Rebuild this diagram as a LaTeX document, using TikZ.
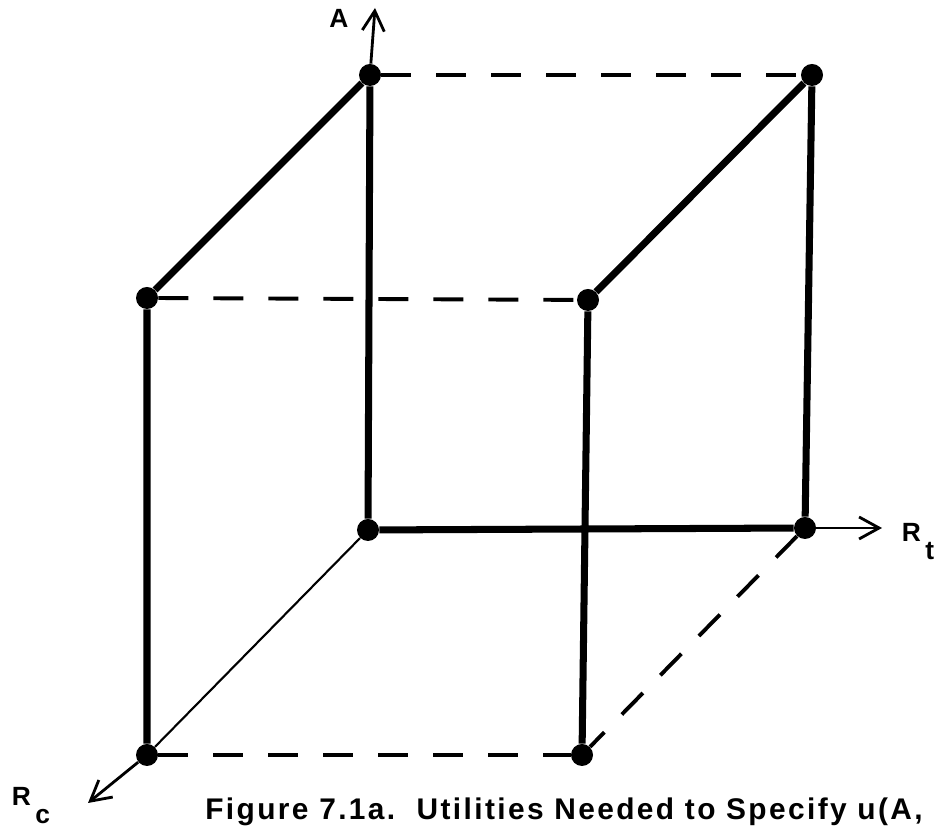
\documentclass[tikz,border=0pt]{standalone}
\usepackage{fontspec}
\setsansfont{Liberation Sans}
\usetikzlibrary{arrows.meta,positioning}

\begin{document}
\begin{tikzpicture}[font=\sffamily\bfseries, >={Straight Barb[length=4mm,width=4.4mm]},
  punto/.style={circle, fill, inner sep=0pt, minimum size=0.44cm},
  spigolo/.style={line width=4pt},
  tratteggio/.style={line width=2.2pt, dash pattern=on 0.6cm off 0.5cm},
  asse/.style={->, line width=1.6pt},
  etichetta/.style={font=\sffamily\bfseries\fontsize{15}{18}\selectfont}]
\useasboundingbox (0,0) rectangle (18.7,16.64);
% vertici del cubo
\node[punto] (o)   at (7.36,6.04)  {};
\node[punto] (tbl) at (7.40,15.14) {};
\node[punto] (tbr) at (16.24,15.14) {};
\node[punto] (bbr) at (16.10,6.08) {};
\node[punto] (ftl) at (2.94,10.68) {};
\node[punto] (ftr) at (11.76,10.64) {};
\node[punto] (fbl) at (2.94,1.54)  {};
\node[punto] (fbr) at (11.64,1.54) {};
\coordinate (atip)  at (7.50,16.48);
\coordinate (rttip) at (17.64,6.08);
\coordinate (rctip) at (1.76,0.58);
% assi
\draw[asse] (tbl) -- (atip);
\draw[asse] (bbr) -- (rttip);
\draw[line width=1.2pt] (o) -- (fbl);
\draw[asse] (fbl) -- (rctip);
\node[etichetta] (alab)  at (6.78,16.28) {A};
\node[etichetta] (rtlab) at (18.36,5.80) {R\,\raisebox{-1.3ex}{t}};
\node[etichetta] (rclab) at (0.62,0.52)  {R\,\raisebox{-1.3ex}{c}};
% spigoli tratteggiati
\draw[tratteggio] (tbl) -- (tbr);
\draw[tratteggio] (ftl) -- (ftr);
\draw[tratteggio] (fbl) -- (fbr);
\draw[tratteggio] (bbr) -- (fbr);
% spigoli pieni
\draw[spigolo] (tbl) -- (o) -- (bbr) -- (tbr) -- (ftr) -- (fbr);
\draw[spigolo] (tbl) -- (ftl) -- (fbl);
\node[anchor=west, inner sep=0pt, font=\sffamily\bfseries\fontsize{17}{20}\selectfont\addfontfeature{LetterSpace=8}] (cap) at (4.10,0.40)
  {Figure 7.1a.\ \ Utilities Needed to Specify u(A,};
\end{tikzpicture}
\end{document}
